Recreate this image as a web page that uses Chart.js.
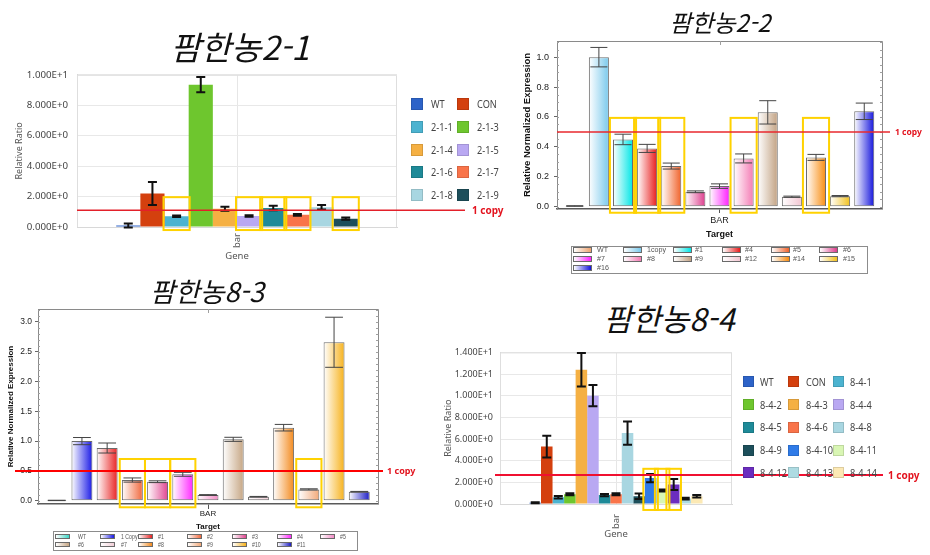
<!DOCTYPE html>
<html lang="ko">
<head>
<meta charset="utf-8">
<title>팜한농 BAR expression</title>
<script src="https://cdn.jsdelivr.net/npm/chart.js@4.4.1/dist/chart.umd.min.js"></script>
<style>
  html, body { margin:0; padding:0; background:#ffffff; }
  body { position:relative; width:930px; height:555px; overflow:hidden; font-family:"Noto Sans", sans-serif; }
  canvas { position:absolute; }
  .ttl { position:absolute; transform:translate(-50%,-50%); font-family:"Noto Sans CJK KR","Noto Sans",sans-serif; font-style:italic; font-weight:400; line-height:1; white-space:nowrap; color:#111; }
  .copy { position:absolute; transform:translateY(-50%); font-family:"Noto Sans","Noto Sans CJK KR",sans-serif; font-weight:700; color:#e3141f; line-height:1; white-space:nowrap; }
  .sq { position:absolute; box-sizing:border-box; }
  .lt { position:absolute; transform:translateY(-50%); transform-origin:left center; color:#444; line-height:1; white-space:nowrap; z-index:2; }
  .lbox { position:absolute; border:1px solid #8c8c8c; box-sizing:border-box; background:transparent; }
</style>
</head>
<body>
<script>
// ================= DATA =================
// Panel 1 : 팜한농2-1
const p1Title = '팜한농2-1';
const p1Category = ['bar'];
const p1Series = ['WT','CON','2-1-1','2-1-3','2-1-4','2-1-5','2-1-6','2-1-7','2-1-8','2-1-9'];
const p1Values = [0.1, 2.2, 0.7, 9.35, 1.2, 0.73, 1.25, 0.8, 1.3, 0.55];
const p1Errors = [0.13, 0.75, 0.05, 0.5, 0.13, 0.05, 0.15, 0.06, 0.15, 0.07];
const p1Colors = ['#2d63c8','#d4400e','#4cb3d0','#6ec62e','#f5b043','#b9a8f2','#1e8a98','#f9744a','#a8d6e1','#1d4f5b'];
const p1Ticks = [0, 2, 4, 6, 8, 10];
const p1Marked = ['2-1-1','2-1-5','2-1-6','2-1-7','2-1-9'];
const p1OneCopy = 1.1;

// Panel 2 : 팜한농2-2
const p2Title = '팜한농2-2';
const p2Category = ['BAR'];
const p2Series = ['WT','1copy','#1','#4','#5','#6','#7','#8','#9','#12','#14','#15','#16'];
const p2Values = [0.005, 1.0, 0.45, 0.39, 0.272, 0.10, 0.138, 0.323, 0.631, 0.067, 0.33, 0.071, 0.638];
const p2Errors = [0.002, 0.065, 0.035, 0.027, 0.02, 0.006, 0.015, 0.03, 0.078, 0.004, 0.02, 0.004, 0.055];
const p2Colors = ['#eda26e','#79c9ec','#00e6e6','#e81c1c','#f0622a','#dc3c8c','#ff1eff','#f47ab4','#c2a283','#f3c6d2','#f88c10','#f2c11c','#1414dc'];
const p2Ticks = [0, 0.2, 0.4, 0.6, 0.8, 1.0];
const p2Marked = ['#1','#4','#5','#8','#14'];
const p2OneCopy = 0.5;

// Panel 3 : 팜한농8-3
const p3Title = '팜한농8-3';
const p3Category = ['BAR'];
const p3Series = ['WT','1 Copy','#1','#2','#3','#4','#5','#6','#7','#8','#9','#10','#11'];
const p3Values = [0.005, 1.0, 0.884, 0.347, 0.319, 0.443, 0.096, 1.03, 0.067, 1.225, 0.19, 2.658, 0.151];
const p3Errors = [0.003, 0.06, 0.084, 0.035, 0.015, 0.033, 0.006, 0.034, 0.005, 0.055, 0.01, 0.42, 0.005];
const p3Colors = ['#3ed6c6','#1a1ae6','#e82222','#f0683c','#e04590','#ff28ff','#f28cc6','#c6a684','#f2cfd8','#f38a1e','#f2a878','#f7b21c','#1c1cc4'];
const p3Ticks = [0, 0.5, 1.0, 1.5, 2.0, 2.5, 3.0];
const p3Marked = ['#2','#3','#4','#9'];
const p3OneCopy = 0.5;

// Panel 4 : 팜한농8-4
const p4Title = '팜한농8-4';
const p4Category = ['bar'];
const p4Series = ['WT','CON','8-4-1','8-4-2','8-4-3','8-4-4','8-4-5','8-4-6','8-4-8','8-4-9','8-4-10','8-4-11','8-4-12','8-4-13','8-4-14'];
const p4Values = [0.12, 5.3, 0.62, 0.9, 12.4, 10.0, 0.82, 0.9, 6.55, 0.72, 2.4, 1.25, 1.8, 0.5, 0.72];
const p4Errors = [0.05, 1.0, 0.12, 0.1, 1.55, 0.98, 0.1, 0.1, 1.08, 0.25, 0.38, 0.1, 0.5, 0.08, 0.12];
const p4Colors = ['#2d63c8','#d4400e','#4cb3d0','#6ec62e','#f5b043','#b9a8f2','#1e8a98','#f9744a','#a8d6e1','#1d4f5b','#2f7be8','#d9f6b4','#6b2dbf','#aedbe2','#fce9b4'];
const p4Ticks = [0, 2, 4, 6, 8, 10, 12, 14];
const p4Marked = ['8-4-10','8-4-11','8-4-12'];
const p4OneCopy = 2.67;

// ================= HELPERS =================
Chart.defaults.font.family = '"Noto Sans", sans-serif';
const ARIAL = '"Liberation Sans", Arial, sans-serif';

function sci(v){
  if (Math.abs(v) < 1e-12) return '0.000E+0';
  const e = Math.floor(Math.log10(Math.abs(v)) + 1e-9);
  const m = v / Math.pow(10, e);
  return m.toFixed(3) + 'E' + (e >= 0 ? '+' : '') + e;
}

function gradFill(color){
  return function(c){
    const el = c.chart.getDatasetMeta(c.datasetIndex).data[c.dataIndex];
    if (!el || !isFinite(el.x) || !isFinite(el.width)) return color;
    const g = c.chart.ctx.createLinearGradient(el.x - el.width/2, 0, el.x + el.width/2, 0);
    g.addColorStop(0, '#ffffff');
    g.addColorStop(1, color);
    return g;
  };
}

function annot(o){
  return {
    id: 'annot_' + o.key,
    afterDatasetsDraw(chart){
      const ctx = chart.ctx, ys = chart.scales.y, xs = chart.scales.x, ca = chart.chartArea;
      ctx.save();
      if (o.style === 'ms'){
        ctx.strokeStyle = '#dedede'; ctx.lineWidth = 1;
        ctx.beginPath();
        ctx.moveTo(ca.left + 0.5, ca.bottom); ctx.lineTo(ca.left + 0.5, ca.top + 0.5);
        ctx.lineTo(ca.right - 0.5, ca.top + 0.5); ctx.lineTo(ca.right - 0.5, ca.bottom);
        ctx.stroke();
      } else {
        ctx.strokeStyle = '#8a8a8a'; ctx.lineWidth = 1;
        ctx.beginPath();
        ctx.moveTo(ca.left, ca.top + 0.5); ctx.lineTo(ca.right + 0.5, ca.top + 0.5); ctx.lineTo(ca.right + 0.5, ca.bottom);
        ctx.stroke();
        ctx.strokeStyle = '#a0a0a0';
        ctx.beginPath();
        const n0 = Math.ceil(o.yMin / o.minor), n1 = Math.floor(o.yMax / o.minor);
        for (let k = n0; k <= n1; k++){
          const y = Math.round(ys.getPixelForValue(k * o.minor)) + 0.5;
          ctx.moveTo(ca.right - 2, y); ctx.lineTo(ca.right + 0.5, y);
          ctx.moveTo(ca.left, y); ctx.lineTo(ca.left + 2, y);
        }
        const cx = Math.round(xs.getPixelForValue(0)) + 0.5;
        ctx.moveTo(cx, ca.top); ctx.lineTo(cx, ca.top + 4);
        ctx.stroke();
      }
      // error bars
      ctx.strokeStyle = o.errColor; ctx.lineWidth = o.errWidth;
      chart.data.datasets.forEach((ds, i) => {
        const el = chart.getDatasetMeta(i).data[0];
        if (!el) return;
        const v = ds.data[0], e = o.errors[i];
        const yt = ys.getPixelForValue(v + e), yb = ys.getPixelForValue(v - e);
        const cw = o.capW != null ? o.capW : el.width * o.capFrac;
        ctx.beginPath();
        ctx.moveTo(el.x, yt); ctx.lineTo(el.x, yb);
        ctx.moveTo(el.x - cw/2, yt); ctx.lineTo(el.x + cw/2, yt);
        ctx.moveTo(el.x - cw/2, yb); ctx.lineTo(el.x + cw/2, yb);
        ctx.stroke();
      });
      // yellow boxes
      ctx.strokeStyle = '#ffd200'; ctx.lineWidth = 2;
      o.marked.forEach(name => {
        const i = o.series.indexOf(name);
        const el = chart.getDatasetMeta(i).data[0];
        if (!el) return;
        const slot = el.width / o.barPct;
        const x1 = el.x - slot/2 - o.boxExtra, x2 = el.x + slot/2 + o.boxExtra;
        const y1 = ys.getPixelForValue(o.boxTop), y2 = ys.getPixelForValue(o.boxBottom);
        ctx.strokeRect(x1, y1, x2 - x1, y2 - y1);
      });
      // 1 copy line
      const yl = ys.getPixelForValue(o.oneCopy);
      ctx.strokeStyle = o.lineColor; ctx.lineWidth = o.lineWidth;
      ctx.beginPath();
      ctx.moveTo(o.lineX1 - o.x, yl); ctx.lineTo(o.lineX2 - o.x, yl);
      ctx.stroke();
      ctx.restore();
    }
  };
}

function makeChart(o){
  const cv = document.createElement('canvas');
  cv.width = o.w; cv.height = o.h;
  cv.style.left = o.x + 'px'; cv.style.top = o.y + 'px';
  cv.style.width = o.w + 'px'; cv.style.height = o.h + 'px';
  document.body.appendChild(cv);
  const ms = o.style === 'ms';
  const datasets = o.series.map((name, i) => ({
    label: name,
    data: [o.values[i]],
    backgroundColor: ms ? o.colors[i] : gradFill(o.colors[i]),
    borderColor: ms ? o.colors[i] : '#6a6a6a',
    borderWidth: ms ? 0 : 1,
    borderSkipped: false,
    categoryPercentage: o.catPct,
    barPercentage: o.barPct
  }));
  const fam = ms ? '"Noto Sans", sans-serif' : ARIAL;
  const xScale = ms ? {
    offset: true,
    grid: { display: true, offset: false, drawTicks: false, color: '#e6e6e6' },
    border: { display: true, color: '#d8d8d8' },
    ticks: { minRotation: 90, maxRotation: 90, autoSkip: false, padding: o.xTickPad, color: '#555', font: { family: fam, size: o.xTickSize } },
    title: { display: true, text: o.xTitle, color: '#555', font: { family: fam, size: o.xTitleSize }, padding: { top: 0, bottom: o.xTitlePad } },
    afterFit: s => { s.height = o.xH; }
  } : {
    offset: true,
    grid: { display: true, offset: false, drawOnChartArea: false, drawTicks: true, tickLength: o.xTickLen, color: '#555' },
    border: { display: true, color: '#5a5a5a', width: 1.5 },
    ticks: { autoSkip: false, maxRotation: 0, padding: o.xTickPad, color: '#222', font: { family: fam, size: o.xTickSize } },
    title: { display: true, text: o.xTitle, color: '#111', font: { family: fam, size: o.xTitleSize, weight: 'bold' }, padding: { top: 0, bottom: o.xTitlePad } },
    afterFit: s => { s.height = o.xH; }
  };
  const yScale = {
    min: o.yMin, max: o.yMax,
    afterBuildTicks: s => { s.ticks = o.ticks.map(v => ({ value: v })); },
    grid: ms ? { color: '#e8e8e8', drawTicks: false } : { drawOnChartArea: false, drawTicks: true, tickLength: 3, color: '#666' },
    border: { display: true, color: ms ? '#d8d8d8' : '#8a8a8a' },
    ticks: { padding: o.yTickPad, color: ms ? '#444' : '#222', font: { family: fam, size: o.yTickSize },
             callback: v => ms ? sci(v) : Number(v).toFixed(1) },
    title: { display: true, text: o.yTitle, color: ms ? '#555' : '#111',
             font: { family: fam, size: o.yTitleSize, weight: ms ? 'normal' : 'bold' }, padding: { top: o.yTitlePad, bottom: 0 } },
    afterFit: s => { s.width = o.yW; }
  };
  const chart = new Chart(cv, {
    type: 'bar',
    data: { labels: o.category, datasets },
    options: {
      responsive: false, animation: false, devicePixelRatio: 1,
      layout: { padding: { left: 0, top: o.padTop, right: o.padRight, bottom: 0 } },
      plugins: { legend: { display: false }, tooltip: { enabled: false }, title: { display: false } },
      scales: { x: xScale, y: yScale }
    },
    plugins: [annot(o)]
  });
  chart.update('none');
  return chart;
}

function addDiv(cls, css, text){
  const d = document.createElement('div');
  d.className = cls; d.style.cssText = css;
  if (text != null) d.textContent = text;
  document.body.appendChild(d);
  return d;
}

function squareLegend(series, colors, L){
  series.forEach((name, i) => {
    const r = Math.floor(i / L.cols), c = i % L.cols;
    const y = L.y0 + r * L.pitch;
    addDiv('sq', `left:${L.swX[c]}px;top:${y - L.sh/2}px;width:${L.sw}px;height:${L.sh}px;background:${colors[i]};border:1px solid rgba(0,0,0,0.12)`);
    addDiv('lt', `left:${L.txX[c]}px;top:${y}px;font-size:${L.fs}px;font-family:${L.fam};transform:translateY(-50%) scaleX(${L.sx})`, name);
  });
}

function gradLegend(series, colors, L){
  addDiv('lbox', `left:${L.box[0]}px;top:${L.box[1]}px;width:${L.box[2]}px;height:${L.box[3]}px`);
  series.forEach((name, i) => {
    const r = Math.floor(i / L.cols), c = i % L.cols;
    const y = L.rowY[r];
    addDiv('sq', `left:${L.swX[c]}px;top:${y - L.sh/2}px;width:${L.sw}px;height:${L.sh}px;background:linear-gradient(to right,#ffffff,${colors[i]});border:1px solid #6a6a6a`);
    addDiv('lt', `left:${L.txX[c]}px;top:${y}px;font-size:${L.fs}px;font-family:${ARIAL};color:#555;transform:translateY(-50%) scaleX(${L.sx})`, name);
  });
}

// ================= PANEL 1 =================
makeChart({
  key: 'p1', style: 'ms', x: 0, y: 60, w: 475, h: 205,
  category: p1Category, series: p1Series, values: p1Values, errors: p1Errors, colors: p1Colors,
  ticks: p1Ticks, yMin: 0, yMax: 10, marked: p1Marked, oneCopy: p1OneCopy,
  catPct: 0.755, barPct: 1.0, yW: 77, xH: 38, padTop: 14, padRight: 78,
  yTickPad: 9, yTickSize: 9.7, yTitle: 'Relative Ratio', yTitleSize: 9, yTitlePad: 13.6,
  xTickPad: 6, xTickSize: 9.5, xTitle: 'Gene', xTitleSize: 9.5, xTitlePad: 3.3,
  errColor: '#111', errWidth: 2, capW: 9,
  boxTop: 1.96, boxBottom: -0.2, boxExtra: 1,
  lineColor: '#e3202a', lineWidth: 1.5, lineX1: 77, lineX2: 465
});
addDiv('ttl', 'left:240px;top:46px;font-size:33px', p1Title);
addDiv('copy', 'left:472px;top:210px;font-size:10px', '1 copy');
squareLegend(p1Series, p1Colors, { cols: 2, swX: [411, 457], txX: [431, 477], y0: 104, pitch: 22.75, sw: 12, sh: 12, fs: 10, fam: '"Noto Sans", sans-serif', sx: 0.92 });

// ================= PANEL 2 =================
makeChart({
  key: 'p2', style: 'biorad', x: 500, y: 30, w: 395, h: 225,
  category: p2Category, series: p2Series, values: p2Values, errors: p2Errors, colors: p2Colors,
  ticks: p2Ticks, yMin: -0.015, yMax: 1.108, minor: 0.05, marked: p2Marked, oneCopy: p2OneCopy,
  catPct: 0.965, barPct: 0.83, yW: 57, xH: 46, padTop: 11, padRight: 13,
  yTickPad: 5, yTickSize: 9, yTitle: 'Relative Normalized Expression', yTitleSize: 9.5, yTitlePad: 21.3,
  xTickLen: 4, xTickPad: 2.6, xTickSize: 9, xTitle: 'Target', xTitleSize: 9, xTitlePad: 14.6,
  errColor: '#444', errWidth: 1, capFrac: 0.85,
  boxTop: 0.594, boxBottom: -0.04, boxExtra: 1,
  lineColor: '#e8282e', lineWidth: 1.5, lineX1: 557, lineX2: 890
});
addDiv('ttl', 'left:720px;top:22px;font-size:24px', p2Title);
addDiv('copy', 'left:895px;top:132px;font-size:8.5px', '1 copy');
gradLegend(p2Series, p2Colors, { box: [571, 246, 297, 28], cols: 6, swX: [573, 623, 673, 722, 771, 819], txX: [597, 647, 695, 745, 793, 843], rowY: [250, 259, 268], sw: 19, sh: 6, fs: 7.5, sx: 0.95 });

// ================= PANEL 3 =================
makeChart({
  key: 'p3', style: 'biorad', x: 0, y: 300, w: 390, h: 232,
  category: p3Category, series: p3Series, values: p3Values, errors: p3Errors, colors: p3Colors,
  ticks: p3Ticks, yMin: -0.055, yMax: 3.216, minor: 0.1, marked: p3Marked, oneCopy: p3OneCopy,
  catPct: 0.964, barPct: 0.83, yW: 38, xH: 28, padTop: 9, padRight: 12,
  yTickPad: 3, yTickSize: 8.5, yTitle: 'Relative Normalized Expression', yTitleSize: 8, yTitlePad: 6.2,
  xTickLen: 5, xTickPad: 0, xTickSize: 8, xTitle: 'Target', xTitleSize: 8, xTitlePad: 0,
  errColor: '#444', errWidth: 1, capFrac: 0.85,
  boxTop: 0.7, boxBottom: -0.11, boxExtra: 0,
  lineColor: '#ff0000', lineWidth: 2, lineX1: 15, lineX2: 383
});
addDiv('ttl', 'left:207px;top:290px;font-size:27px', p3Title);
addDiv('copy', 'left:387px;top:470px;font-size:9px', '1 copy');
gradLegend(p3Series, p3Colors, { box: [53, 531, 305, 20], cols: 7, swX: [55, 100, 138, 187, 232, 277, 320], txX: [78, 121, 158, 207, 252, 297, 340], rowY: [536.5, 544.5], sw: 15, sh: 5, fs: 6.5, sx: 0.8 });

// ================= PANEL 4 =================
makeChart({
  key: 'p4', style: 'ms', x: 440, y: 340, w: 450, h: 205,
  category: p4Category, series: p4Series, values: p4Values, errors: p4Errors, colors: p4Colors,
  ticks: p4Ticks, yMin: 0, yMax: 14, marked: p4Marked, oneCopy: p4OneCopy,
  catPct: 0.746, barPct: 1.0, yW: 60, xH: 41, padTop: 12, padRight: 158,
  yTickPad: 7, yTickSize: 9, yTitle: 'Relative Ratio', yTitleSize: 9, yTitlePad: 2.6,
  xTickPad: 10, xTickSize: 9.5, xTitle: 'Gene', xTitleSize: 9.5, xTitlePad: 5.3,
  errColor: '#111', errWidth: 2, capW: 9,
  boxTop: 3.25, boxBottom: -0.55, boxExtra: 1.5,
  lineColor: '#f01030', lineWidth: 2, lineX1: 495, lineX2: 883
});
addDiv('ttl', 'left:669px;top:317px;font-size:31px', p4Title);
addDiv('copy', 'left:888px;top:475px;font-size:10px', '1 copy');
squareLegend(p4Series, p4Colors, { cols: 3, swX: [743, 788, 833], txX: [760, 806, 850], y0: 381.7, pitch: 22.8, sw: 11, sh: 11, fs: 10, fam: '"Noto Sans", sans-serif', sx: 0.92 });
</script>
</body>
</html>
